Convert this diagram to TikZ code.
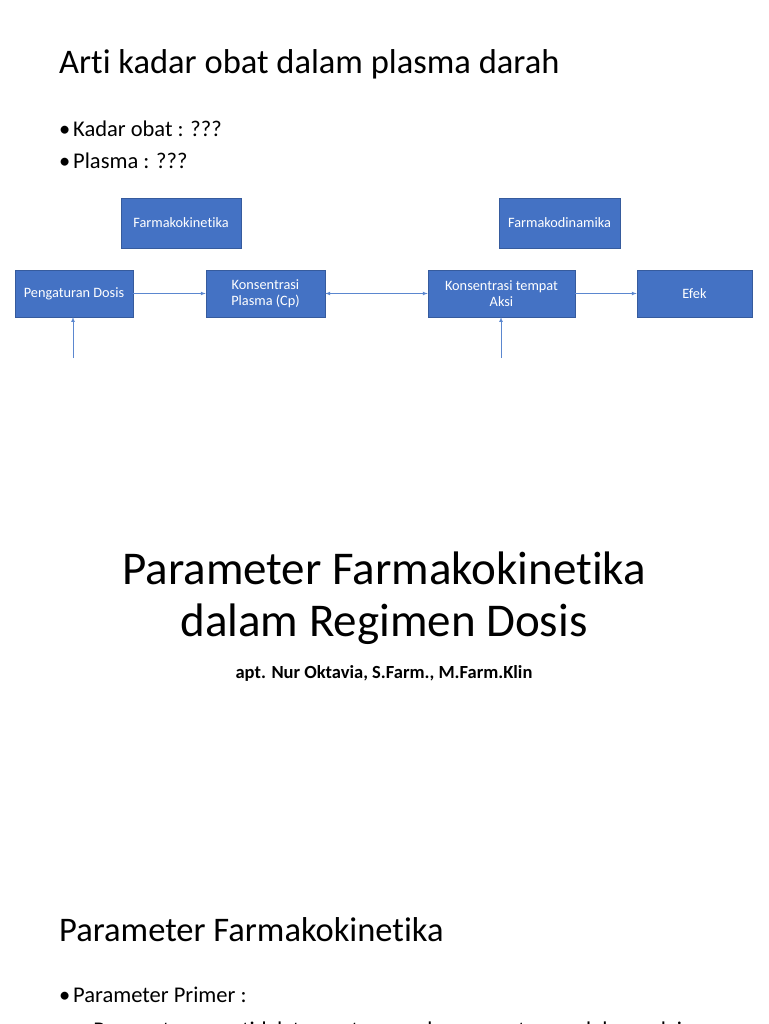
\documentclass[tikz,border=0pt]{standalone}
\usepackage{fontspec}
\setmainfont{Carlito}[Ligatures=NoCommon]
\definecolor{bx}{HTML}{4472C4}
\definecolor{ln}{HTML}{5B87CF}
\newcommand{\mybul}{\makebox[14pt][l]{\textbullet}}
\begin{document}
\begin{tikzpicture}[x=1pt,y=-1pt,
 box/.style={draw=bx!80!black,line width=0.6pt,fill=bx,text=white,font=\fontsize{14.3}{16}\selectfont,align=center,inner sep=0pt},
 conn/.style={draw=ln,line width=0.7pt,-latex},
 txt/.style={anchor=west,inner sep=0pt}]
\useasboundingbox (0,0) rectangle (768,1024);
\clip (0,0) rectangle (768,1024);
\node[txt,font=\fontsize{34.5}{40}\selectfont] (t1) at (59,64) {Arti kadar obat dalam plasma darah};
\node[txt,font=\fontsize{22.5}{26}\selectfont] (b1) at (59,129) {\mybul Kadar obat : ???};
\node[txt,font=\fontsize{22.5}{26}\selectfont] (b2) at (59,161) {\mybul Plasma : ???};
\node[box,minimum width=120,minimum height=50] (fk) at (181,223) {Farmakokinetika};
\node[box,minimum width=121,minimum height=50] (fd) at (559.5,223) {Farmakodinamika};
\node[box,minimum width=118,minimum height=47] (pd) at (74,293.5) {Pengaturan Dosis};
\node[box,minimum width=119,minimum height=47] (kp) at (265.5,293.5) {Konsentrasi\\Plasma (Cp)};
\node[box,minimum width=147,minimum height=47] (ka) at (501.5,293.5) {Konsentrasi tempat\\Aksi};
\node[box,minimum width=115,minimum height=47] (ef) at (694.5,293.5) {Efek};
\coordinate (s1) at (73,358);
\coordinate (s2) at (501,358);
\draw[conn] (pd) -- (kp);
\draw[conn,latex-latex] (kp) -- (ka);
\draw[conn] (ka) -- (ef);
\draw[conn] (s1) -- (73,317);
\draw[conn] (s2) -- (501,317);
\node[font=\fontsize{47}{52}\selectfont,align=center] (big) at (384,598) {Parameter Farmakokinetika\\dalam Regimen Dosis};
\node[font=\bfseries\fontsize{18.5}{20}\selectfont] (au) at (384,673) {apt. Nur Oktavia, S.Farm., M.Farm.Klin};
\node[txt,font=\fontsize{34.5}{40}\selectfont] (t3) at (59,930) {Parameter Farmakokinetika};
\node[txt,font=\fontsize{22.5}{26}\selectfont] (b3) at (59,995) {\mybul Parameter Primer :};
\node[txt,font=\fontsize{22.5}{26}\selectfont] (b4) at (75,1032) {◦\ \ Parameter yang tidak tergantung pada parameter model yang lain};
\end{tikzpicture}
\end{document}
